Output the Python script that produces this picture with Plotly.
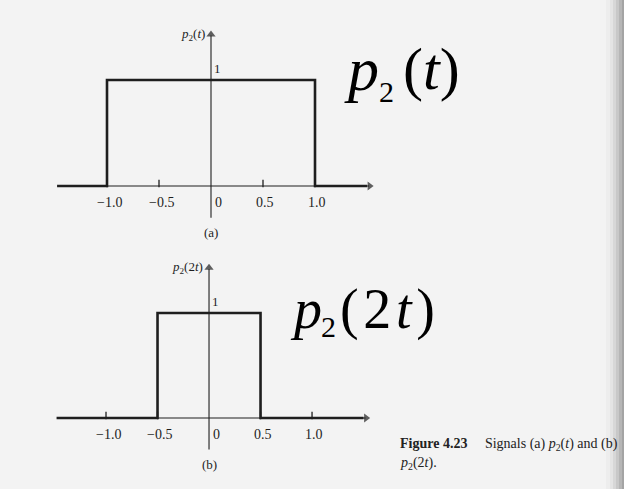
import plotly.graph_objects as go

# Rectangular pulse p2(t) and its time-compressed version p2(2t)
t_a = [-1.48, -1.0, 1.0, 1.5]
p_a = [0, 1, 0, 0]
t_b = [-1.48, -0.5, 0.5, 1.5]
p_b = [0, 1, 0, 0]

tick_vals = [-1.0, -0.5, 0, 0.5, 1.0]
tick_text = ["\u22121.0", "\u22120.5", "0", "0.5", "1.0"]

SERIF = "Liberation Serif"
INK = "#1e1e1e"
BG = "#f3f3f3"

fig = go.Figure()

panels = [
    dict(x="x", y="y", t=t_a, p=p_a, ylab="<i>p</i><sub>2</sub>(<i>t</i>)", tag="(a)"),
    dict(x="x2", y="y2", t=t_b, p=p_b, ylab="<i>p</i><sub>2</sub>(2<i>t</i>)", tag="(b)"),
]

annotations = []
shapes = []
for pn in panels:
    xr, yr = pn["x"], pn["y"]
    # time axis and vertical axis
    fig.add_trace(go.Scatter(x=[-1.0, 1.52], y=[0, 0], mode="lines", line=dict(color=INK, width=1.2),
                             xaxis=xr, yaxis=yr, showlegend=False, hoverinfo="skip"))
    fig.add_trace(go.Scatter(x=[0, 0], y=[-0.3, 1.42], mode="lines", line=dict(color=INK, width=1.1),
                             xaxis=xr, yaxis=yr, showlegend=False, hoverinfo="skip"))
    fig.add_trace(go.Scatter(x=[1.525, 0], y=[0, 1.43], mode="markers",
                             marker=dict(symbol=["triangle-right", "triangle-up"], size=[8, 8],
                                         color=INK, line=dict(width=0)),
                             xaxis=xr, yaxis=yr, showlegend=False, hoverinfo="skip"))
    # pulse
    fig.add_trace(go.Scatter(
        x=pn["t"], y=pn["p"], mode="lines", line=dict(color=INK, width=2.6, shape="hv"),
        xaxis=xr, yaxis=yr, showlegend=False, hoverinfo="skip"))
    # tick marks and labels
    for v, s in zip(tick_vals, tick_text):
        if v != 0:
            shapes.append(dict(type="line", xref=xr, yref=yr, x0=v, x1=v, y0=-0.012, y1=0.06,
                               line=dict(color=INK, width=1.3)))
        annotations.append(dict(x=v + (0.07 if v == 0 else 0.02), y=-0.16, xref=xr, yref=yr, text=s,
                                showarrow=False, font=dict(family=SERIF, size=14, color=INK)))
    annotations.append(dict(x=1.66, y=0.0, xref=xr, yref=yr, text="<i>t</i>", showarrow=False,
                            font=dict(family=SERIF, size=12, color=INK)))
    annotations.append(dict(x=0.065, y=1.11, xref=xr, yref=yr, text="1", showarrow=False,
                            font=dict(family=SERIF, size=13, color=INK)))
    annotations.append(dict(x=-0.04, y=1.43, xref=xr, yref=yr, text=pn["ylab"], showarrow=False,
                            xanchor="right", font=dict(family=SERIF, size=13, color=INK)))
    annotations.append(dict(x=0, y=-0.44, xref=xr, yref=yr, text=pn["tag"], showarrow=False,
                            font=dict(family=SERIF, size=13, color=INK)))


def big(x, y, text, size):
    annotations.append(dict(x=x / 624, y=1 - y / 489, xref="paper", yref="paper", xanchor="left",
                            yanchor="middle", showarrow=False, text=text,
                            font=dict(family=SERIF, size=size, color="#000")))


# large labels beside each panel (base letter, lowered subscript, argument)
big(342, 69, "<i>p</i>", 62)
big(377, 91, "2", 30)
big(401, 69, "(<i>t</i>)", 60)

big(288, 309, "<i>p</i>", 56)
big(319, 326, "2", 30)
big(338, 309, "(\u200a2\u200a<i>t</i>\u200a)", 56)

# figure caption
annotations.append(dict(x=398 / 624, y=1 - 444 / 489, xref="paper", yref="paper", xanchor="left",
                        yanchor="middle", showarrow=False,
                        text="<b>Figure 4.23</b>\u2003 Signals (a) <i>p</i><sub>2</sub>(<i>t</i>) and (b)",
                        font=dict(family=SERIF, size=14, color="#222")))
annotations.append(dict(x=398 / 624, y=1 - 463 / 489, xref="paper", yref="paper", xanchor="left",
                        yanchor="middle", showarrow=False,
                        text="<i>p</i><sub>2</sub>(2<i>t</i>).",
                        font=dict(family=SERIF, size=14, color="#222")))

# darkened page edge on the right
edge = [(606, 0.04), (610, 0.07), (613, 0.11), (616, 0.15), (619, 0.2), (622, 0.25)]
for x0, op in edge:
    shapes.append(dict(type="rect", xref="paper", yref="paper", x0=x0 / 624, x1=1, y0=0, y1=1,
                       fillcolor="#707070", opacity=op, line=dict(width=0), layer="below"))

hidden = dict(visible=False, fixedrange=True)
fig.update_layout(
    width=624, height=489,
    margin=dict(l=0, r=0, t=0, b=0),
    paper_bgcolor=BG, plot_bgcolor="rgba(0,0,0,0)",
    xaxis=dict(hidden, domain=[55 / 624, 382.6 / 624], range=[-1.5, 1.65]),
    yaxis=dict(hidden, domain=[1 - 239 / 489, 1 - 21.7 / 489], range=[-0.5, 1.55]),
    xaxis2=dict(hidden, domain=[54.5 / 624, 379 / 624], range=[-1.5, 1.65]),
    yaxis2=dict(hidden, domain=[1 - 470.5 / 489, 1 - 255.25 / 489], range=[-0.5, 1.55]),
    annotations=annotations,
    shapes=shapes,
)

fig.write_html("out.html")
